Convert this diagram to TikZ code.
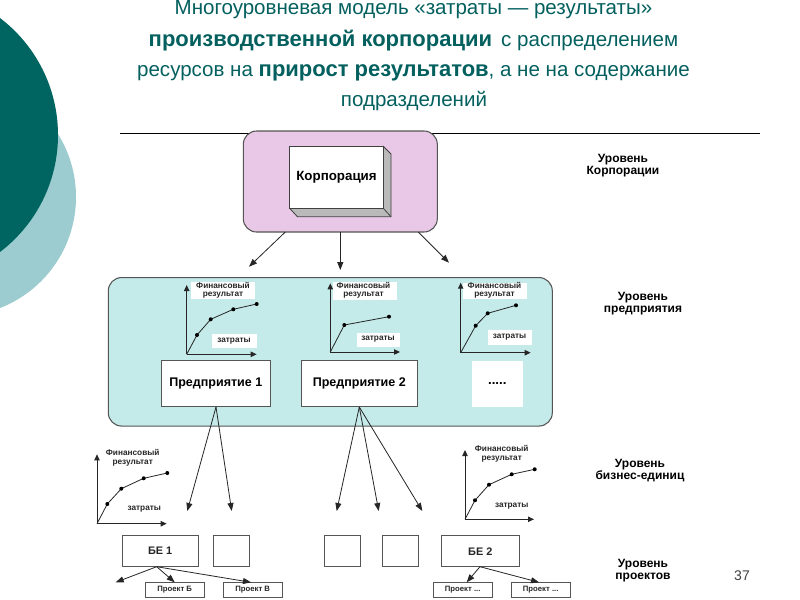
\documentclass[tikz,border=0pt]{standalone}
\usepackage{fontspec}
\setmainfont{Liberation Sans}
\usetikzlibrary{arrows.meta}
\definecolor{titlec}{HTML}{03605E}
\definecolor{darkc}{HTML}{006560}
\definecolor{lightc}{HTML}{9CCCCF}
\definecolor{pinkc}{HTML}{E8C8E6}
\definecolor{aquac}{HTML}{C4EAEA}
\definecolor{edgec}{HTML}{555555}
\newcommand{\fs}[1]{\fontsize{#1*0.75}{#1*0.75}\selectfont}
\newcommand{\pxfont}[1]{\fontsize{#1}{#1}\selectfont}
\tikzset{
  x=0.75pt,y=-0.75pt,
  every node/.style={inner sep=0pt,outer sep=0pt},
  titleline/.style={text=titlec,font=\pxfont{15.4},anchor=center},
  lvl/.style={font=\bfseries\pxfont{9},text=black,align=center,anchor=center},
  axis/.style={draw=black!85,line width=0.75pt,-{Triangle[length=4.5pt,width=4pt]}},
  curve/.style={draw=black!85,line width=0.6pt},
  dot/.style={circle,fill=black,minimum size=3pt},
  wbox/.style={fill=white},
  chartlabel/.style={font=\bfseries\pxfont{6.2},text=black!85,anchor=center},
  ent/.style={draw=edgec,fill=white,line width=0.7pt,font=\bfseries\pxfont{9.4},text=black},
  buse/.style={draw=edgec,fill=white,line width=0.7pt,font=\bfseries\pxfont{8.2},text=black!85},
  proj/.style={draw=edgec,fill=white,line width=0.7pt,font=\bfseries\pxfont{5.8},text=black!85},
  link/.style={draw=black!85,line width=0.6pt,-{Triangle[length=6pt,width=4.5pt]}},
}
\begin{document}
\begin{tikzpicture}
\useasboundingbox (0,0) rectangle (800,600);
% background
\fill[white] (0,0) rectangle (800,600);
\begin{scope}
\clip (0,0) rectangle (800,600);
\fill[lightc] (-43,197) circle[radius=119];
\fill[darkc] (-89,135) circle[radius=147];
\end{scope}
% title
\node[titleline] (t1) at (413.5,10) {Многоуровневая модель «затраты — результаты»};
\node[titleline] (t2) at (413.5,41) {\textbf{\pxfont{16.5}производственной  корпорации}\, с распределением};
\node[titleline] (t3) at (413.5,73) {ресурсов  на \textbf{\pxfont{16.5}прирост  результатов},  а не на содержание};
\node[titleline] (t4) at (414,101) {подразделений};
\coordinate (ruleL) at (120,133);
\coordinate (ruleR) at (760,133);
\draw[black,line width=0.7pt] (ruleL) -- (ruleR);
% corporation
\node[draw=edgec,fill=pinkc,line width=0.8pt,rounded corners=10pt,minimum width=194*0.75pt,minimum height=101*0.75pt] (corp) at (340.3,181.5) {};
\fill[black!27,draw=black!75,line width=0.6pt] (289.7,208.3) -- (297.4,216.7) -- (391,216.7) -- (391,154) -- (383.3,146.3) -- cycle;
\draw[black!75,line width=0.6pt] (383.3,208.3) -- (391,216.7);
\node[draw=black!75,fill=white,line width=0.6pt,minimum width=93.6*0.75pt,minimum height=62*0.75pt,font=\bfseries\pxfont{10},text=black] (corpbox) at (336.5,177.3) {Корпорация};
\coordinate (ca) at (249,266.7);
\coordinate (cb) at (340.3,270);
\coordinate (cc) at (449,262.7);
\draw[link] (285.3,232) -- (ca);
\draw[link,line width=0.8pt] (340.3,232) -- (cb);
\draw[link] (418.3,232) -- (cc);
% enterprise level
\node[draw=edgec,fill=aquac,line width=0.8pt,rounded corners=10pt,minimum width=444*0.75pt,minimum height=148.5*0.75pt] (entlevel) at (330.3,351.8) {};
% chart 1
\fill[white] (190.7,281.7) rectangle (255,299.3);
\fill[white] (211.7,334) rectangle (256.7,348.3);
\draw[axis] (186.7,354.3) -- (186.7,285);
\draw[axis] (186.7,354.3) -- (256.7,354.3);
\draw[curve] (186.7,354.3) -- (197,335) -- (210.7,319.3) -- (233.3,309.3) -- (256.7,304);
\foreach \p in {(197,335),(210.7,319.3),(233.3,309.3),(256.7,304)} \node[dot] at \p {};
\node[chartlabel] (c1a) at (223,285.5) {Финансовый};
\node[chartlabel] (c1b) at (223,295.5) {результат};
\node[chartlabel] (c1c) at (234,341) {затраты};
% chart 2
\fill[white] (333.3,281.7) rectangle (396.7,300);
\fill[white] (356.7,333.3) rectangle (400,347.3);
\draw[axis] (330.3,352) -- (330.3,283.3);
\draw[axis] (330.3,352) -- (400,352);
\draw[curve] (330.3,352) -- (344.3,325) -- (389,316.7);
\foreach \p in {(344.3,325),(389,316.7)} \node[dot] at \p {};
\node[chartlabel] (c2a) at (363.5,285.5) {Финансовый};
\node[chartlabel] (c2b) at (363.5,295.5) {результат};
\node[chartlabel] (c2c) at (378,339) {затраты};
% chart 3
\fill[white] (463.3,282.7) rectangle (526.7,298.7);
\fill[white] (487.7,330) rectangle (532.3,345.3);
\draw[axis] (460.7,352.7) -- (460.7,282.7);
\draw[axis] (460.7,352.7) -- (530.7,352.7);
\draw[curve] (460.7,352.7) -- (475.7,325.7) -- (487.7,313.3) -- (516,305.3);
\foreach \p in {(475.7,325.7),(487.7,313.3),(516,305.3)} \node[dot] at \p {};
\node[chartlabel] (c3a) at (494.5,285) {Финансовый};
\node[chartlabel] (c3b) at (494.5,295.5) {результат};
\node[chartlabel] (c3c) at (509.5,337) {затраты};
% enterprise boxes
\node[ent,minimum width=109*0.75pt,minimum height=46.3*0.75pt] (e1) at (215.8,383.8) {Предприятие 1};
\node[ent,minimum width=116*0.75pt,minimum height=46.3*0.75pt] (e2) at (359.3,383.8) {Предприятие 2};
\node[fill=white,minimum width=50.7*0.75pt,minimum height=46*0.75pt,font=\bfseries\pxfont{10}] (e3) at (497.3,384) {.....};
% arrows down
\coordinate (e1s) at (216,407);
\coordinate (e2s) at (359.3,407);
\coordinate (d1) at (187.3,511);
\coordinate (d2) at (231.7,511);
\coordinate (d3) at (336.7,511);
\coordinate (d4) at (378.7,511);
\coordinate (d5) at (422.3,511);
\draw[link] (e1s) -- (d1);
\draw[link] (e1s) -- (d2);
\draw[link] (e2s) -- (d3);
\draw[link] (e2s) -- (d4);
\draw[link] (e2s) -- (d5);
% chart 4
\draw[axis] (97,523.7) -- (97,454.3);
\draw[axis] (97,523.7) -- (166.7,523.7);
\draw[curve] (97,523.7) -- (107.3,504) -- (121.3,488.7) -- (143.7,478.3) -- (167.3,473);
\foreach \p in {(107.3,504),(121.3,488.7),(143.7,478.3),(167.3,473)} \node[dot] at \p {};
\node[chartlabel] (c4a) at (132.7,452) {Финансовый};
\node[chartlabel] (c4b) at (132.7,462.7) {результат};
\node[chartlabel] (c4c) at (144.3,509.5) {затраты};
% chart 5
\draw[axis] (465,519.3) -- (465,450);
\draw[axis] (465,519.3) -- (534,519.3);
\draw[curve] (465,519.3) -- (475,500.3) -- (489,484.7) -- (511.7,474.3) -- (534.7,469.3);
\foreach \p in {(475,500.3),(489,484.7),(511.7,474.3),(534.7,469.3)} \node[dot] at \p {};
\node[chartlabel] (c5a) at (501.7,448) {Финансовый};
\node[chartlabel] (c5b) at (501.7,459.3) {результат};
\node[chartlabel] (c5c) at (511.7,506.5) {затраты};
% business units
\node[buse,minimum width=76.3*0.75pt,minimum height=31*0.75pt] (b1) at (160.2,551.2) {БЕ 1};
\node[buse,minimum width=35.3*0.75pt,minimum height=31*0.75pt] (b2) at (231.4,551.2) {};
\node[buse,minimum width=35.7*0.75pt,minimum height=31*0.75pt] (b3) at (342.2,551.2) {};
\node[buse,minimum width=35.6*0.75pt,minimum height=31*0.75pt] (b4) at (400.5,551.2) {};
\node[buse,minimum width=78*0.75pt,minimum height=31*0.75pt] (b5) at (480.3,551.2) {БЕ 2};
% projects
\node[proj,minimum width=58.7*0.75pt,minimum height=15.4*0.75pt] (p1) at (174.7,590) {Проект Б};
\node[proj,minimum width=58.7*0.75pt,minimum height=15.4*0.75pt] (p2) at (252.7,590) {Проект В};
\node[proj,minimum width=58.7*0.75pt,minimum height=15.4*0.75pt] (p3) at (462.7,590) {Проект ...};
\node[proj,minimum width=58.7*0.75pt,minimum height=15.4*0.75pt] (p4) at (540.7,590) {Проект ...};
\coordinate (bs1) at (156.7,566.7);
\coordinate (bs2) at (480,566.7);
\coordinate (pf) at (115.7,582.3);
\draw[link] (bs1) -- (pf);
\draw[link] (bs1) -- (p1.north);
\draw[link] (bs1) -- (p2.north -| 251,0);
\draw[link] (bs2) -- (466.7,582.3);
\draw[link] (bs2) -- (539,582.3);
% level labels
\node[lvl] (l1) at (623,166) {Уровень\\Корпорации};
\node[lvl] (l2) at (643,304) {Уровень\\предприятия};
\node[lvl] (l3) at (640,471) {Уровень\\бизнес-единиц};
\node[lvl] (l4) at (643,571) {Уровень\\проектов};
\node[font=\pxfont{10.5},text=black!75] (pg) at (742,575.5) {37};
\end{tikzpicture}
\end{document}
